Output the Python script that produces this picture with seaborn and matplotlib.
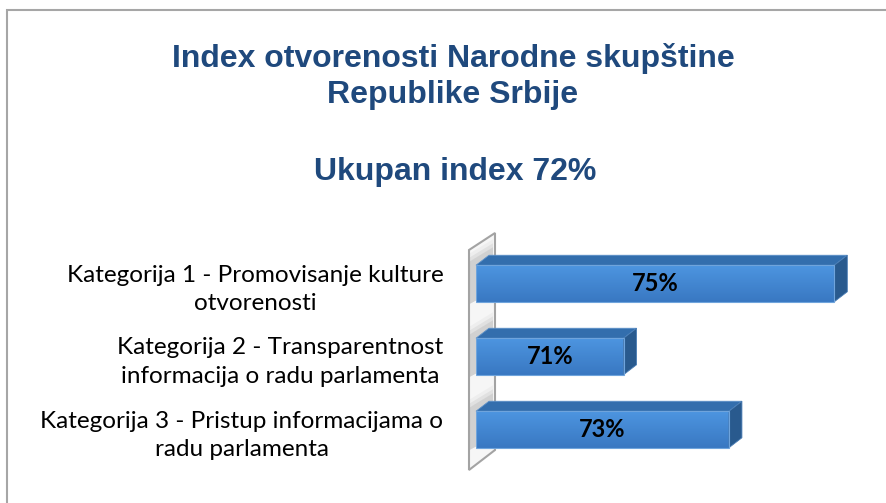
import numpy as np
import pandas as pd
import matplotlib
matplotlib.use("Agg")
import matplotlib.pyplot as plt
import seaborn as sns
from matplotlib.patches import Polygon, Rectangle
from matplotlib.colors import LinearSegmentedColormap
from matplotlib.transforms import IdentityTransform

# data
categories = [
    "Kategorija 1 - Promovisanje kulture\notvorenosti",
    "Kategorija 2 - Transparentnost\ninformacija o radu parlamenta",
    "Kategorija 3 - Pristup informacijama o\nradu parlamenta",
]
values = [75, 71, 73]
value_labels = ["75%", "71%", "73%"]
title_lines = ["Index otvorenosti Narodne skupštine", "Republike Srbije"]
subtitle = "Ukupan index 72%"

TITLE_COLOR = "#1F497D"
FRONT_TOP = "#4d95e0"
FRONT_BOTTOM = "#3978c2"
TOP_FACE = "#336ead"
SIDE_FACE = "#295a8e"

sns.set_theme(style="white")
plt.rcParams["font.family"] = ["Lato", "DejaVu Sans"]

W, H = 887, 503
fig = plt.figure(figsize=(W / 100, H / 100), dpi=100)
fig.patch.set_facecolor("white")
ax = fig.add_axes([476 / W, 37 / H, 411 / W, 219 / H])
ax.patch.set_visible(False)

df = pd.DataFrame({"cat": categories, "val": values})
sns.barplot(data=df, x="val", y="cat", orient="h", width=0.5,
            color=FRONT_TOP, ax=ax, zorder=3)

xmin, xmax = 68.2, 76.0
ax.set_xlim(xmin, xmax)
ax.set_ylim(2.5, -0.5)

fig.canvas.draw()
to_disp = ax.transData
to_data = ax.transData.inverted()
DX, DY = 13, 10
cmap = LinearSegmentedColormap.from_list("front", [FRONT_TOP, FRONT_BOTTOM])
grad = np.linspace(0, 1, 60).reshape(-1, 1)
bb = ax.get_window_extent()
wl = bb.x0 - 7

for p, lab in zip(ax.patches, value_labels):
    x0 = max(p.get_x(), xmin)
    x1 = p.get_x() + p.get_width()
    y0 = p.get_y()
    y1 = y0 + p.get_height()
    p.set_x(x0)
    p.set_width(x1 - x0)
    p.set_facecolor("none")
    p.set_edgecolor("#6fa4dc")
    p.set_linewidth(0.8)
    p.set_zorder(4)
    ax.imshow(grad, cmap=cmap, extent=[x0, x1, y1, y0], aspect="auto",
              origin="upper", zorder=3)

    (X0, Yt), (X1, Yb) = to_disp.transform([(x0, y0), (x1, y1)])
    top = to_data.transform([(X0, Yt), (X1, Yt), (X1 + DX, Yt + DY), (X0 + DX, Yt + DY)])
    side = to_data.transform([(X1, Yt), (X1 + DX, Yt + DY), (X1 + DX, Yb + DY), (X1, Yb)])
    ax.add_patch(Polygon(top, closed=True, fc=TOP_FACE, ec="#5a8fc8", lw=0.6, zorder=3, clip_on=False))
    ax.add_patch(Polygon(side, closed=True, fc=SIDE_FACE, ec="#4a7db5", lw=0.6, zorder=3, clip_on=False))

    # soft shadow of the bar on the back wall
    for k, a in enumerate([0.07, 0.05, 0.03]):
        sh = [(wl + 1, Yb - 2), (wl + 1, Yt + 4 + 4 * k), (wl + 24, Yt + DY + 8 + 4 * k), (wl + 24, Yb + DY)]
        fig.add_artist(Polygon(sh, closed=True, fc="black", ec="none", alpha=a,
                               transform=IdentityTransform(), zorder=-0.5))

    ax.text((x0 + x1) / 2, (y0 + y1) / 2, lab, ha="center", va="center",
            fontsize=17, fontweight="bold", color="black", zorder=5)

ax.set_xlim(xmin, xmax)
ax.set_ylim(2.5, -0.5)

# back wall of the 3D chart
wall = [(wl, bb.y0 - 4), (wl, bb.y1 - 3), (wl + 26, bb.y1 + 14), (wl + 26, bb.y0 + 16)]
fig.add_artist(Polygon(wall, closed=True, fc="#f6f6f6", ec="#a3a3a3", lw=1.5,
                       transform=IdentityTransform(), zorder=-1))

ax.set_xlabel("")
ax.set_ylabel("")
ax.set_xticks([])
ax.tick_params(axis="y", length=0, pad=23.5, labelsize=17.5, labelcolor="black")
for t in ax.get_yticklabels():
    t.set_multialignment("center")
    t.set_linespacing(1.45)
sns.despine(ax=ax, left=True, bottom=True)

# titles
for line, base in zip(title_lines, [67, 103]):
    fig.text(453 / W, 1 - base / H, line, ha="center", va="baseline",
             fontsize=23, fontweight="bold", color=TITLE_COLOR,
             family="Liberation Sans")
fig.text(455 / W, 1 - 180 / H, subtitle, ha="center", va="baseline",
         fontsize=23, fontweight="bold", color=TITLE_COLOR,
         family="Liberation Sans")

# chart area border
fig.add_artist(Rectangle((7 / W, -0.1), 1.2, 1 - 9.5 / H + 0.1,
                         transform=fig.transFigure, fill=False,
                         ec="#a6a6a6", lw=1.5))

fig.savefig("out.png", dpi=100)
